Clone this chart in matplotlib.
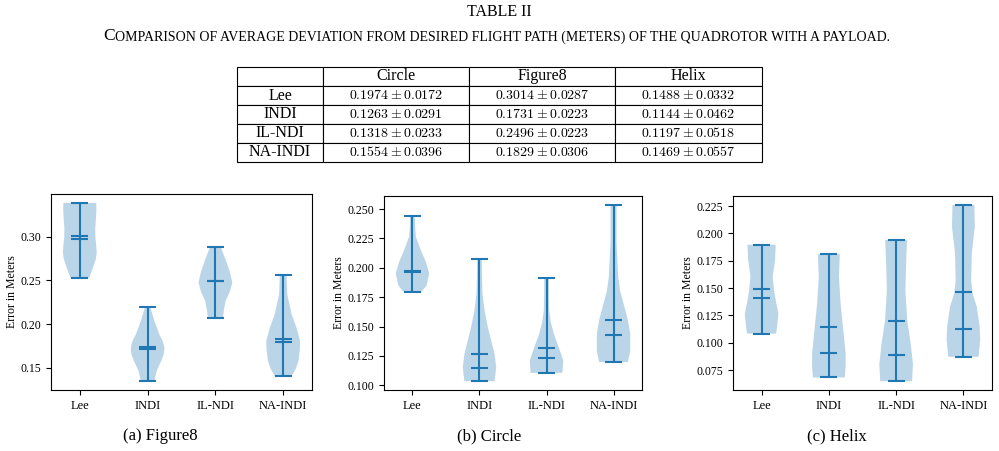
import numpy as np
import matplotlib
matplotlib.use("Agg")
import matplotlib.pyplot as plt
from matplotlib.ticker import MultipleLocator

plt.rcParams['font.family'] = ['Liberation Serif', 'DejaVu Serif']
plt.rcParams['mathtext.fontset'] = 'cm'

controllers = ["Lee", "INDI", "IL-NDI", "NA-INDI"]
trajectories = ["Circle", "Figure8", "Helix"]

# Tabla: media y desviacion por controlador
mean_circle = [0.1974, 0.1263, 0.1318, 0.1554]
std_circle = [0.0172, 0.0291, 0.0233, 0.0396]
mean_figure8 = [0.3014, 0.1731, 0.2496, 0.1829]
std_figure8 = [0.0287, 0.0223, 0.0223, 0.0306]
mean_helix = [0.1488, 0.1144, 0.1197, 0.1469]
std_helix = [0.0332, 0.0462, 0.0518, 0.0557]

# Estadisticos de los violines
min_figure8 = [0.2529, 0.1345, 0.2065, 0.1402]
max_figure8 = [0.3390, 0.2190, 0.2882, 0.2568]
median_figure8 = [0.2974, 0.1718, 0.2490, 0.1790]

min_circle = [0.1797, 0.1034, 0.1105, 0.1197]
max_circle = [0.2443, 0.2074, 0.1911, 0.2537]
median_circle = [0.1963, 0.1148, 0.1229, 0.1429]

min_helix = [0.1084, 0.0683, 0.0649, 0.0872]
max_helix = [0.1897, 0.1811, 0.1940, 0.2262]
median_helix = [0.1414, 0.0911, 0.0889, 0.1127]

# Perfil de densidad (nivel, ancho relativo)
levels_figure8 = [
    [0.2529, 0.2648, 0.2750, 0.2821, 0.2900, 0.2993, 0.3100, 0.3203, 0.3300, 0.3390],
    [0.1345, 0.1460, 0.1575, 0.1650, 0.1720, 0.1800, 0.1882, 0.2035, 0.2190],
    [0.2065, 0.2160, 0.2264, 0.2370, 0.2476, 0.2600, 0.2724, 0.2882],
    [0.1402, 0.1490, 0.1575, 0.1700, 0.1805, 0.1950, 0.2111, 0.2341, 0.2568],
]
dens_figure8 = [
    [0.55, 0.78, 0.95, 1.0, 0.97, 0.92, 0.91, 0.95, 0.98, 0.97],
    [0.40, 0.53, 0.80, 0.95, 1.0, 0.90, 0.69, 0.40, 0.16],
    [0.44, 0.50, 0.60, 0.85, 1.0, 0.85, 0.63, 0.32],
    [0.50, 0.75, 0.90, 0.98, 1.0, 0.80, 0.50, 0.24, 0.20],
]
levels_circle = [
    [0.1797, 0.1851, 0.1951, 0.2050, 0.2151, 0.2266, 0.2350, 0.2443],
    [0.1034, 0.1152, 0.1266, 0.1380, 0.1495, 0.1640, 0.1780, 0.1920, 0.2074],
    [0.1105, 0.1208, 0.1294, 0.1437, 0.1540, 0.1637, 0.1780, 0.1911],
    [0.1197, 0.1294, 0.1437, 0.1560, 0.1694, 0.1800, 0.1923, 0.2209, 0.2537],
]
dens_circle = [
    [0.55, 0.85, 1.0, 0.80, 0.50, 0.20, 0.16, 0.14],
    [0.90, 1.0, 0.90, 0.70, 0.50, 0.30, 0.18, 0.15, 0.14],
    [0.95, 1.0, 0.80, 0.44, 0.25, 0.16, 0.14, 0.14],
    [0.86, 1.0, 1.0, 0.85, 0.60, 0.40, 0.28, 0.18, 0.18],
]
levels_helix = [
    [0.1084, 0.1143, 0.1265, 0.1380, 0.1480, 0.1603, 0.1756, 0.1897],
    [0.0683, 0.0790, 0.0897, 0.1020, 0.1143, 0.1357, 0.1603, 0.1811],
    [0.0649, 0.0806, 0.0989, 0.1204, 0.1480, 0.1756, 0.1940],
    [0.0872, 0.1030, 0.1143, 0.1327, 0.1450, 0.1572, 0.1818, 0.2063, 0.2262],
]
dens_helix = [
    [0.86, 0.92, 1.0, 0.85, 0.74, 0.66, 0.80, 0.84],
    [0.95, 1.0, 1.0, 0.92, 0.84, 0.70, 0.60, 0.65],
    [0.95, 1.0, 0.87, 0.66, 0.55, 0.60, 0.65],
    [0.90, 1.0, 0.97, 0.80, 0.55, 0.46, 0.50, 0.68, 0.65],
]


def violin_stats(levels, dens, means, medians, mins, maxs):
    stats = []
    for i in range(len(levels)):
        stats.append({"coords": np.array(levels[i]),
                      "vals": np.array(dens[i]),
                      "mean": means[i], "median": medians[i],
                      "min": mins[i], "max": maxs[i]})
    return stats


fig = plt.figure(figsize=(9.99, 4.51), dpi=100)

# Titulo de la tabla
fig.text(0.5, 1 - 12 / 451, "TABLE II", ha="center", va="center", fontsize=11.5)
ax_t = fig.add_axes([237 / 999, 1 - 162 / 451, 525 / 999, 95 / 451])
ax_t.axis("off")
cap = fig.text(0.103, 1 - 44 / 451, "C", fontsize=12.5, va="bottom")
ax_t.annotate("OMPARISON OF AVERAGE DEVIATION FROM DESIRED FLIGHT PATH (METERS) OF THE QUADROTOR WITH A PAYLOAD.",
              xy=(1, 0), xycoords=cap, ha="left", va="bottom", fontsize=10,
              annotation_clip=False)

# Tabla
cols_mean = [mean_circle, mean_figure8, mean_helix]
cols_std = [std_circle, std_figure8, std_helix]
best = [int(np.argmin(m)) for m in cols_mean]
cell_text = [[""] + trajectories]
for r, name in enumerate(controllers):
    row = [name]
    for c in range(3):
        m, s = cols_mean[c][r], cols_std[c][r]
        if best[c] == r:
            row.append(r"$\mathbf{%.4f} \pm %.4f$" % (m, s))
        else:
            row.append(r"$%.4f \pm %.4f$" % (m, s))
    cell_text.append(row)
tbl = ax_t.table(cellText=cell_text, cellLoc="center",
                 colWidths=[86 / 525, 146 / 525, 146 / 525, 147 / 525],
                 bbox=[0, 0, 1, 1])
tbl.auto_set_font_size(False)
tbl.set_fontsize(10)
for (r, c), cell in tbl.get_celld().items():
    cell.set_linewidth(0.8)
    cell.set_edgecolor("black")
    if r == 0 or c == 0:
        cell.get_text().set_fontsize(11.5)

# Violines
panels = [
    ([51, 312, 194], levels_figure8, dens_figure8, mean_figure8, median_figure8,
     min_figure8, max_figure8, "(a) Figure8", 160, 0.05),
    ([384, 642, 196], levels_circle, dens_circle, mean_circle, median_circle,
     min_circle, max_circle, "(b) Circle", 489, 0.025),
    ([733, 992, 196], levels_helix, dens_helix, mean_helix, median_helix,
     min_helix, max_helix, "(c) Helix", 837, 0.025),
]
positions = [1, 2, 3, 4]
for box, lev, den, mea, med, mn, mx, title, cx, step in panels:
    x0, x1, top = box
    ax = fig.add_axes([x0 / 999, 1 - 390 / 451, (x1 - x0) / 999, (390 - top) / 451])
    ax.violin(violin_stats(lev, den, mea, med, mn, mx), positions=positions,
              widths=0.5, showmeans=True, showmedians=True, showextrema=True)
    ax.set_xticks(positions)
    ax.set_xticklabels(controllers)
    ax.yaxis.set_major_locator(MultipleLocator(step))
    ax.set_ylabel("Error in Meters", fontsize=8.5, labelpad=2)
    ax.tick_params(axis="x", labelsize=9)
    ax.tick_params(axis="y", labelsize=8.5)
    fig.text(cx / 999, 1 - 436 / 451, title, ha="center", va="center", fontsize=12)

plt.savefig("out.png", dpi=100)
